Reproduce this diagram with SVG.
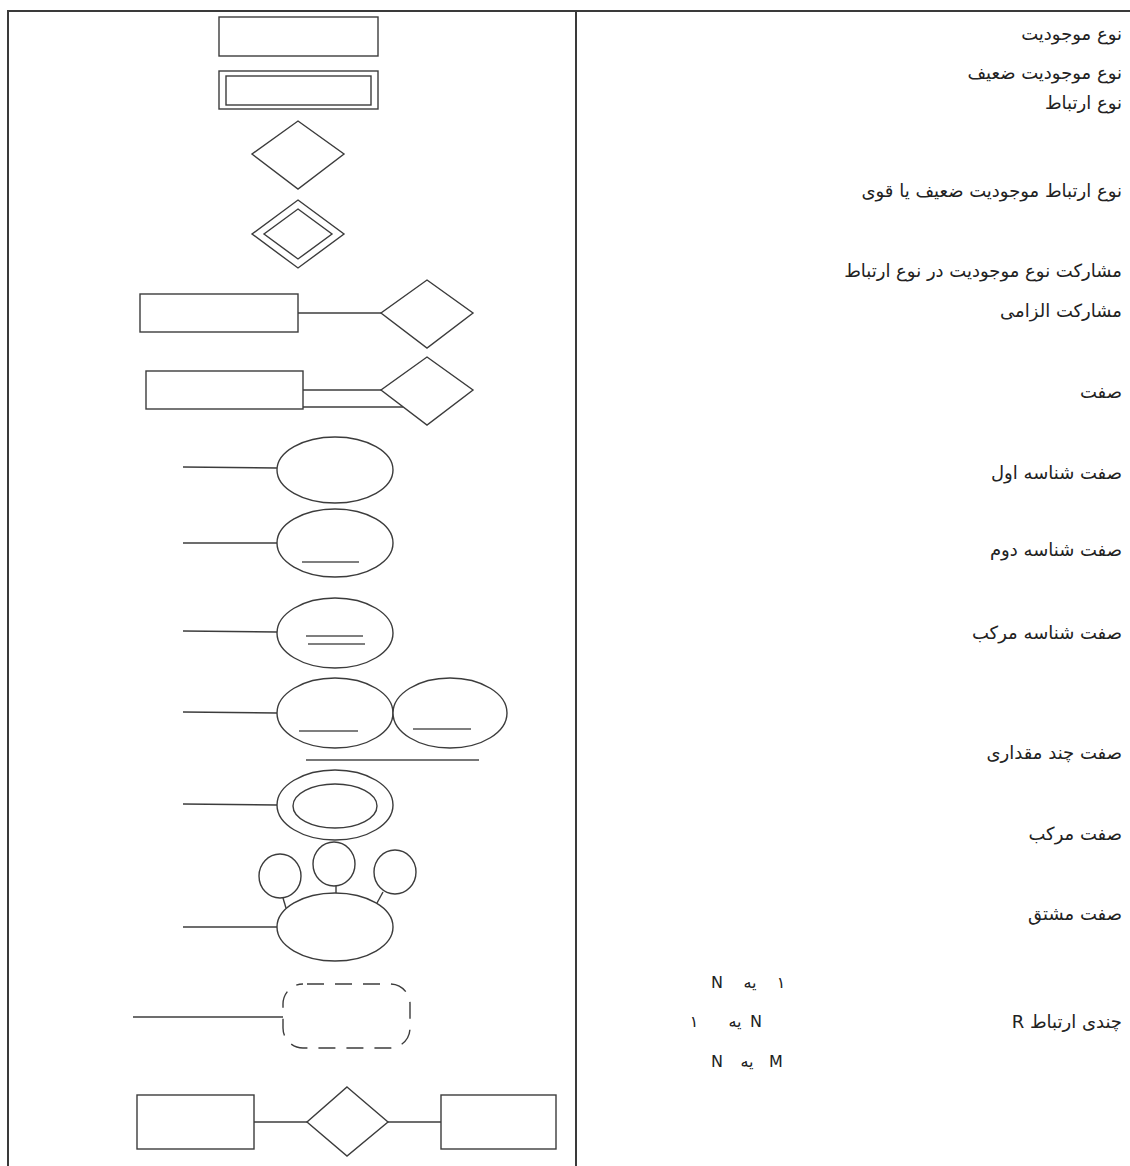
<svg xmlns="http://www.w3.org/2000/svg" width="1130" height="1166" viewBox="0 0 1130 1166">
<style>
.s{fill:none;stroke:#3c3c3c;stroke-width:1.4}
.w{fill:#fff;stroke:#3c3c3c;stroke-width:1.4}
.b{fill:none;stroke:#3a3a3a;stroke-width:2}
.u{fill:none;stroke:#555;stroke-width:1.6}
.t{font-family:"DejaVu Sans",sans-serif;font-size:18px;fill:#222;direction:rtl;text-anchor:start}
.m{font-family:"DejaVu Sans",sans-serif;font-size:16px;fill:#222;text-anchor:middle}
</style>
<rect width="1130" height="1166" fill="#fff"/>
<g id="table">
<line class="b" x1="7" y1="11" x2="1130" y2="11"/>
<line class="b" x1="8" y1="11" x2="8" y2="1166"/>
<line class="b" x1="576" y1="11" x2="576" y2="1166"/>
</g>
<g id="connectors">
<line class="s" x1="298" y1="313" x2="381" y2="313"/>
<line class="s" x1="303" y1="390" x2="381" y2="390"/>
<line class="s" x1="303" y1="407" x2="403" y2="407"/>
<line class="s" x1="183" y1="467" x2="277" y2="468"/>
<line class="s" x1="183" y1="543" x2="277" y2="543"/>
<line class="s" x1="183" y1="631" x2="277" y2="632"/>
<line class="s" x1="183" y1="712" x2="277" y2="713"/>
<line class="s" x1="183" y1="804" x2="277" y2="805"/>
<line class="s" x1="183" y1="927" x2="277" y2="927"/>
<line class="s" x1="283" y1="898" x2="286" y2="908"/>
<line class="s" x1="336" y1="886" x2="336" y2="895"/>
<line class="s" x1="383" y1="892" x2="377" y2="903"/>
<line class="s" x1="133" y1="1017" x2="283" y2="1017"/>
<line class="s" x1="254" y1="1122" x2="307" y2="1122"/>
<line class="s" x1="388" y1="1122" x2="441" y2="1122"/>
</g>
<g id="entity"><rect class="w" x="219" y="17" width="159" height="39"/></g>
<g id="weak-entity"><rect class="w" x="219" y="71" width="159" height="38"/><rect class="s" x="226" y="76" width="145" height="29"/></g>
<g id="relationship"><polygon class="w" points="298,121 344,154 298,189 252,154"/></g>
<g id="identifying-relationship"><polygon class="w" points="298,200 344,234 298,268 252,234"/><polygon class="s" points="298,209 332,234 298,259 264,234"/></g>
<g id="participation-entity"><rect class="w" x="140" y="294" width="158" height="38"/></g>
<g id="participation-rel"><polygon class="w" points="427,280 473,313 427,348 381,313"/></g>
<g id="total-entity"><rect class="w" x="146" y="371" width="157" height="38"/></g>
<g id="total-rel"><polygon class="w" points="427,357 473,390 427,425 381,390"/></g>
<g id="attribute"><ellipse class="w" cx="335" cy="470" rx="58" ry="33"/></g>
<g id="key-attribute"><ellipse class="w" cx="335" cy="543" rx="58" ry="34"/><line class="u" x1="302" y1="562" x2="359" y2="562"/></g>
<g id="composite-key"><ellipse class="w" cx="335" cy="633" rx="58" ry="35"/><line class="u" x1="306" y1="636" x2="363" y2="636"/><line class="u" x1="308" y1="644" x2="365" y2="644"/></g>
<g id="multi-key-a"><ellipse class="w" cx="335" cy="713" rx="58" ry="35"/><line class="u" x1="299" y1="731" x2="358" y2="731"/></g>
<g id="multi-key-b"><ellipse class="w" cx="450" cy="713" rx="57" ry="35"/><line class="u" x1="413" y1="729" x2="471" y2="729"/></g>
<g id="multi-key-line"><line x1="306" y1="760" x2="479" y2="760" stroke="#777" stroke-width="2.2"/></g>
<g id="multivalued"><ellipse class="w" cx="335" cy="805" rx="58" ry="35"/><ellipse class="s" cx="335" cy="806" rx="42" ry="22"/></g>
<g id="sub-left"><ellipse class="w" cx="280" cy="876" rx="21" ry="22"/></g>
<g id="sub-mid"><ellipse class="w" cx="334" cy="864" rx="21" ry="22"/></g>
<g id="sub-right"><ellipse class="w" cx="395" cy="872" rx="21" ry="22"/></g>
<g id="composite"><ellipse class="w" cx="335" cy="927" rx="58" ry="34"/></g>
<g id="derived"><rect class="s" x="283" y="984" width="127" height="64" rx="20" stroke-dasharray="17 11" stroke-dashoffset="-4"/></g>
<g id="entity-left"><rect class="w" x="137" y="1095" width="117" height="54"/></g>
<g id="cardinality-rel"><polygon class="w" points="347,1087 388,1122 347,1156 307,1122"/></g>
<g id="entity-right"><rect class="w" x="441" y="1095" width="115" height="54"/></g>
<g id="labels">
<text class="t" x="1122" y="40">نوع موجودیت</text>
<text class="t" x="1122" y="79">نوع موجودیت ضعیف</text>
<text class="t" x="1122" y="109">نوع ارتباط</text>
<text class="t" x="1122" y="197">نوع ارتباط موجودیت ضعیف یا قوی</text>
<text class="t" x="1122" y="277">مشارکت نوع موجودیت در نوع ارتباط</text>
<text class="t" x="1122" y="317">مشارکت الزامی</text>
<text class="t" x="1122" y="398">صفت</text>
<text class="t" x="1122" y="479">صفت شناسه اول</text>
<text class="t" x="1122" y="556">صفت شناسه دوم</text>
<text class="t" x="1122" y="639">صفت شناسه مرکب</text>
<text class="t" x="1122" y="759">صفت چند مقداری</text>
<text class="t" x="1122" y="840">صفت مرکب</text>
<text class="t" x="1122" y="920">صفت مشتق</text>
<text class="t" x="1122" y="1028">چندی ارتباط R</text>
<text class="m" y="988"><tspan x="717">N</tspan><tspan x="750">یه</tspan><tspan x="781">۱</tspan></text>
<text class="m" y="1027"><tspan x="694">۱</tspan><tspan x="735">یه</tspan><tspan x="756">N</tspan></text>
<text class="m" y="1067"><tspan x="717">N</tspan><tspan x="747">یه</tspan><tspan x="776">M</tspan></text>
</g>
</svg>
